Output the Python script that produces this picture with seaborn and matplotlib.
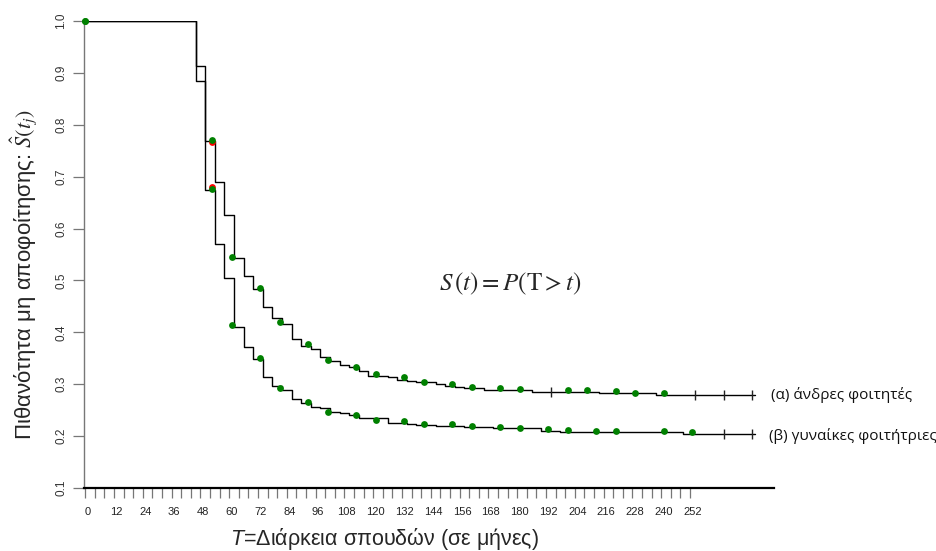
import matplotlib
matplotlib.use("Agg")
import matplotlib.pyplot as plt
import matplotlib.transforms as mtransforms
import numpy as np
import pandas as pd
import seaborn as sns

# Kaplan-Meier step estimates (time in months, survival probability)
men_months = [0, 46, 50, 54, 58, 62, 66, 70, 74, 78, 82, 86, 90, 94, 98, 102, 106, 110,
              114, 118, 126, 130, 134, 138, 146, 150, 154, 158, 166, 178, 186, 214, 238, 279]
men_surv = [1.000, 0.913, 0.769, 0.690, 0.626, 0.543, 0.509, 0.483, 0.449, 0.428, 0.416,
            0.388, 0.374, 0.367, 0.352, 0.345, 0.338, 0.334, 0.326, 0.316, 0.313, 0.309,
            0.306, 0.304, 0.300, 0.297, 0.295, 0.292, 0.289, 0.288, 0.285, 0.283, 0.279, 0.279]

women_months = [0, 46, 50, 54, 58, 62, 66, 70, 74, 78, 82, 86, 90, 94, 98, 102, 106, 110,
                114, 126, 134, 138, 146, 158, 170, 190, 198, 249, 279]
women_surv = [1.000, 0.885, 0.674, 0.570, 0.504, 0.411, 0.372, 0.348, 0.313, 0.297, 0.288,
              0.271, 0.263, 0.257, 0.254, 0.247, 0.244, 0.240, 0.234, 0.226, 0.2235, 0.221,
              0.219, 0.217, 0.215, 0.210, 0.208, 0.204, 0.204]

# Estimates at the graduation sessions
men_pt_months = [0, 53, 61, 73, 81, 93, 101, 113, 121, 133, 141, 153, 161, 173, 181,
                 201, 209, 221, 229, 241]
men_pt_surv = [1.0, 0.771, 0.546, 0.486, 0.419, 0.377, 0.347, 0.334, 0.319, 0.314, 0.304,
               0.300, 0.295, 0.292, 0.290, 0.288, 0.288, 0.286, 0.284, 0.283]

women_pt_months = [0, 53, 61, 73, 81, 93, 101, 113, 121, 133, 141, 153, 161, 173, 181,
                   193, 201, 213, 221, 241, 253]
women_pt_surv = [1.0, 0.676, 0.414, 0.350, 0.292, 0.265, 0.247, 0.240, 0.232, 0.229, 0.224,
                 0.223, 0.220, 0.218, 0.216, 0.214, 0.212, 0.210, 0.209, 0.209, 0.207]

red_months = [53, 53]
red_surv = [0.767, 0.681]

# Censored observations
men_cens_months = [194, 254, 266, 278]
women_cens_months = [266, 278]

x_tick_months = list(range(0, 253, 4))
x_label_months = list(range(0, 253, 12))
y_ticks = [0.1, 0.2, 0.3, 0.4, 0.5, 0.6, 0.7, 0.8, 0.9, 1.0]

sns.set_style("ticks")
plt.rcParams["font.family"] = ["Liberation Sans", "DejaVu Sans"]
plt.rcParams["mathtext.fontset"] = "custom"
plt.rcParams["mathtext.rm"] = "Liberation Sans"
plt.rcParams["mathtext.it"] = "Liberation Sans:italic"

fig = plt.figure(figsize=(9.36, 5.51), dpi=100)
ax = fig.add_axes([84 / 936, 63 / 551, 690 / 936, 467 / 551])


def step_value(months, surv, t):
    idx = np.searchsorted(months, t, side="right") - 1
    return surv[idx]


steps = pd.concat([
    pd.DataFrame({"months": men_months, "surv": men_surv, "group": "men"}),
    pd.DataFrame({"months": women_months, "surv": women_surv, "group": "women"}),
])
sns.lineplot(data=steps, x="months", y="surv", units="group", estimator=None,
             drawstyle="steps-post", color="black", linewidth=1.0, ax=ax,
             legend=False, zorder=2)

cens = pd.DataFrame({
    "months": men_cens_months + women_cens_months,
    "surv": [step_value(men_months, men_surv, t) for t in men_cens_months]
    + [step_value(women_months, women_surv, t) for t in women_cens_months],
})
sns.scatterplot(data=cens, x="months", y="surv", marker="|", s=60, color="#222222",
                linewidth=1.0, ax=ax, zorder=3, legend=False)

sns.scatterplot(x=red_months, y=red_surv, color="#ff0000", s=24, linewidth=0,
                ax=ax, zorder=4, legend=False)
pts = pd.DataFrame({
    "months": men_pt_months + women_pt_months,
    "surv": men_pt_surv + women_pt_surv,
})
sns.scatterplot(data=pts, x="months", y="surv", color="#008000", s=24, linewidth=0,
                ax=ax, zorder=5, legend=False, clip_on=False)

ax.set_xlim(-0.5, 287)
ax.set_ylim(0.1, 1.0)
ax.set_xlabel("")
ax.set_ylabel("")

for side in ("top", "right"):
    ax.spines[side].set_visible(False)
ax.spines["bottom"].set_linewidth(1.6)
ax.spines["bottom"].set_color("black")
ax.spines["left"].set_linewidth(1.0)
ax.spines["left"].set_color("#777777")

ax.set_xticks(x_tick_months)
ax.set_xticklabels([str(m) if m in x_label_months else "" for m in x_tick_months])
ax.tick_params(axis="x", length=7, width=0.9, color="#777777", pad=7,
               labelsize=8, labelcolor="#222222")
offset = mtransforms.ScaledTranslation(2.5 / 100, 0, fig.dpi_scale_trans)
for lbl in ax.get_xticklabels():
    lbl.set_transform(lbl.get_transform() + offset)

ax.set_yticks(y_ticks)
ax.set_yticklabels([f"{v:.1f}" for v in y_ticks], rotation=90, va="center")
ax.tick_params(axis="y", length=8, width=0.9, color="#777777", pad=4,
               labelsize=8.5, labelcolor="#333333")

fig.text(510 / 936, 1 - 284 / 551, r"$S\,(t) = P\left(\mathrm{T} > t\right)$",
         math_fontfamily="stix", fontsize=18, ha="center", va="center")

fig.text(771 / 936, 1 - 395 / 551, "(α) άνδρες φοιτητές", family=["Open Sans", "DejaVu Sans"],
         fontsize=11, ha="left", va="center", color="#111111")
fig.text(769 / 936, 1 - 436 / 551, "(β) γυναίκες φοιτήτριες", family=["Open Sans", "DejaVu Sans"],
         fontsize=11, ha="left", va="center", color="#111111")

fig.text(24 / 936, 1 - 274 / 551, r"Πιθανότητα μη αποφοίτησης: $\hat{S}\left(t_{j}\right)$",
         math_fontfamily="stix", fontsize=16, rotation=90, ha="center", va="center")

fig.text(385 / 936, 1 - 539 / 551, r"$T$=Διάρκεια σπουδών (σε μήνες)",
         fontsize=15.5, ha="center", va="center")

fig.savefig("out.png", dpi=100)
